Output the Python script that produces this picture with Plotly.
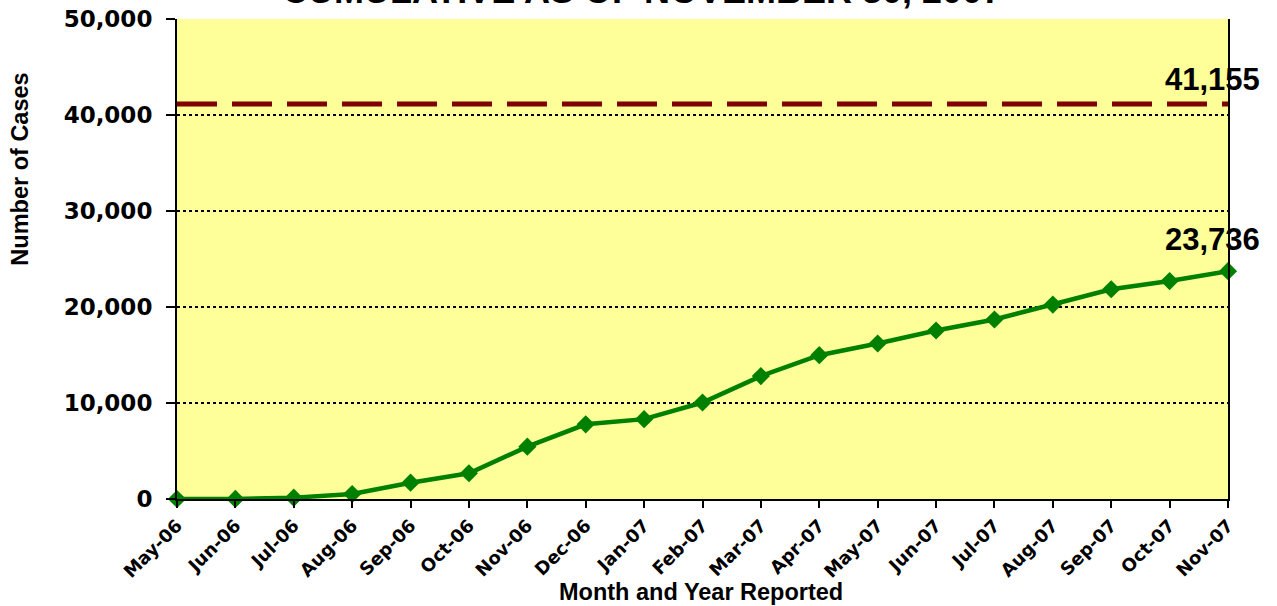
import plotly.graph_objects as go

months = ["May-06", "Jun-06", "Jul-06", "Aug-06", "Sep-06", "Oct-06", "Nov-06",
          "Dec-06", "Jan-07", "Feb-07", "Mar-07", "Apr-07", "May-07", "Jun-07",
          "Jul-07", "Aug-07", "Sep-07", "Oct-07", "Nov-07"]
cases = [0, 10, 140, 520, 1700, 2680, 5450, 7780, 8320, 10050, 12800, 14980,
         16200, 17550, 18700, 20250, 21850, 22700, 23736]
target_value = 41155

title_text = "CUMULATIVE AS OF NOVEMBER 30, 2007"
x_title = "Month and Year Reported"
y_title = "Number of Cases"
y_ticks = [0, 10000, 20000, 30000, 40000, 50000]

fig = go.Figure()
fig.add_trace(go.Scatter(
    x=months, y=cases, mode="lines+markers",
    line=dict(color="#008000", width=4.5),
    marker=dict(symbol="diamond", size=14, color="#008000"),
    cliponaxis=False, showlegend=False, hoverinfo="x+y"))

fig.add_shape(type="line", xref="paper", x0=0, x1=1, yref="y",
              y0=target_value, y1=target_value,
              line=dict(color="#800000", width=5, dash="40px,15px"))

bold = dict(family="Liberation Sans, Arial, sans-serif", color="black", weight="bold")

fig.add_annotation(x=months[-1], y=target_value, text=f"{target_value:,}",
                   showarrow=False, xanchor="right", xshift=34, yanchor="middle",
                   yshift=24, font=dict(size=31, **bold))
fig.add_annotation(x=months[-1], y=cases[-1], text=f"{cases[-1]:,}",
                   showarrow=False, xanchor="right", xshift=34, yanchor="middle",
                   yshift=32, font=dict(size=31, **bold))

fig.add_annotation(xref="paper", yref="paper", x=0.4424, y=1, yshift=6,
                   xanchor="center", yanchor="bottom", text=title_text,
                   showarrow=False, font=dict(size=36, **bold))
fig.add_annotation(xref="paper", yref="paper", x=0.4983, y=-0.194,
                   xanchor="center", yanchor="middle", text=x_title,
                   showarrow=False, font=dict(size=23.5, **bold))
fig.add_annotation(xref="paper", yref="paper", x=-0.149, y=0.687,
                   xanchor="center", yanchor="middle", text=y_title, textangle=-90,
                   showarrow=False, font=dict(size=23.5, **bold))

tickfont_y = dict(family="DejaVu Sans, Verdana, sans-serif", size=23, color="black", weight="bold")
tickfont_x = dict(family="DejaVu Sans, Verdana, sans-serif", size=18, color="black", weight="bold")

fig.update_layout(
    width=1277, height=606, autosize=False,
    margin=dict(l=177, r=49, t=19, b=107),
    plot_bgcolor="#FFFF99", paper_bgcolor="white",
    xaxis=dict(type="category", range=[0, len(months) - 1], showgrid=False,
               showline=True, linecolor="black", linewidth=2,
               ticks="outside", ticklen=7, tickwidth=1.5, tickcolor="black",
               tickangle=-45, tickfont=tickfont_x, automargin=False, zeroline=False),
    yaxis=dict(range=[0, 50000], tickvals=y_ticks, tickformat=",",
               showgrid=True, gridcolor="black", gridwidth=1.5, griddash="dot",
               showline=True, linecolor="black", linewidth=2, mirror=True,
               ticks="outside", ticklen=9, tickwidth=1.5, tickcolor="black",
               ticklabelstandoff=9,
               tickfont=tickfont_y, automargin=False, zeroline=False),
)

fig.write_html("out.html", config={"displayModeBar": False},
               post_script="document.body.style.margin='0';document.body.style.overflow='hidden';")
